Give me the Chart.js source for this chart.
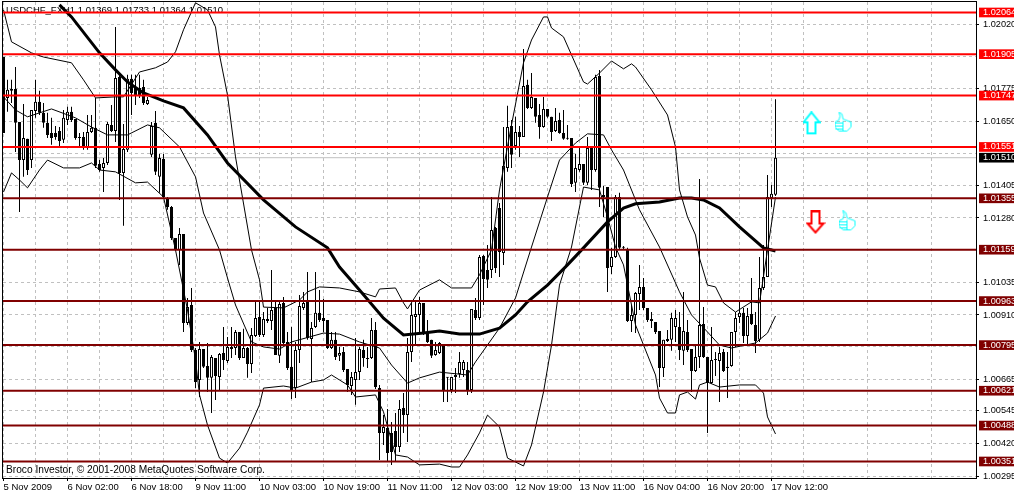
<!DOCTYPE html>
<html>
<head>
<meta charset="utf-8">
<title>USDCHF H1</title>
<script src="https://cdn.jsdelivr.net/npm/chart.js@4/dist/chart.umd.min.js"></script>
<style>
html, body { margin: 0; padding: 0; background: #fff; overflow: hidden; }
canvas { display: block; }
</style>
</head>
<body>
<canvas id="myChart" width="1014" height="495"></canvas>
<script>
const xTickLabels = ['5 Nov 2009', '6 Nov 02:00', '6 Nov 18:00', '9 Nov 11:00', '10 Nov 03:00', '10 Nov 19:00', '11 Nov 11:00',
    '12 Nov 03:00', '12 Nov 19:00', '13 Nov 11:00', '16 Nov 04:00', '16 Nov 20:00', '17 Nov 12:00'];
const priceTicks = [1.02020, 1.01775, 1.01650, 1.01405, 1.01280, 1.01035, 1.00910, 1.00665, 1.00545, 1.00420, 1.00295];
const hiddenTicks = [1.01895, 1.01525, 1.01160, 1.00790];
const redLevels = [1.02064, 1.01905, 1.01747, 1.01551];
const darkLevels = [1.01355, 1.01159, 1.00963, 1.00795, 1.00621, 1.00488, 1.00351];
const lastPrice = 1.01510;
const titleText = 'USDCHF_FXH1 1.01369 1.01733 1.01364 1.01510';
const copyrightText = 'Broco Investor, © 2001-2008 MetaQuotes Software Corp.';

const opens = [1.01894,1.01738,1.01765,1.01772,1.01646,1.01501,1.01582,1.01501,1.01688,1.01723,
    1.01681,1.01643,1.01604,1.01604,1.01612,1.01578,1.01654,1.01685,1.01658,1.01589,
    1.01589,1.01547,1.01608,1.01624,1.01486,1.01471,1.01490,1.01635,1.01612,1.01818,
    1.01452,1.01540,1.01811,1.01780,1.01776,1.01780,1.01715,1.01521,1.01643,1.01437,
    1.01505,1.01356,1.01322,1.01204,1.01158,1.01219,1.00879,1.00948,1.00776,1.00662,
    1.00780,1.00715,1.00670,1.00746,1.00673,1.00765,1.00734,1.00788,1.00784,1.00845,
    1.00746,1.00784,1.00723,1.00830,1.00902,1.00834,1.00895,1.00887,1.00937,1.00754,
    1.00956,1.00807,1.00712,1.00631,1.00776,1.00937,1.00960,1.00818,1.00864,1.00918,
    1.00898,1.00891,1.00784,1.00815,1.00754,1.00769,1.00704,1.00639,1.00662,1.00692,
    1.00776,1.00746,1.00746,1.00853,1.00631,1.00460,1.00479,1.00460,1.00467,1.00406,
    1.00555,1.00528,1.00769,1.00902,1.00910,1.00956,1.00845,1.00815,1.00757,1.00765,
    1.00795,1.00673,1.00624,1.00673,1.00685,1.00700,1.00700,1.00624,1.00929,1.00898,
    1.01135,1.01082,1.01082,1.01242,1.01318,1.01146,1.01471,1.01631,1.01555,1.01608,
    1.01589,1.01788,1.01700,1.01738,1.01673,1.01627,1.01696,1.01666,1.01612,1.01654,
    1.01604,1.01585,1.01585,1.01414,1.01463,1.01486,1.01414,1.01551,1.01463,1.01822,
    1.01368,1.01398,1.01093,1.01131,1.01360,1.01170,1.01158,1.00887,1.00910,1.00990,
    1.01017,1.00937,1.00895,1.00883,1.00849,1.00708,1.00811,1.00815,1.00864,1.00864,
    1.00773,1.00845,1.00780,1.00696,1.00750,1.00876,1.00750,1.00650,1.00742,1.00734,
    1.00769,1.00712,1.00715,1.00845,1.00902,1.00918,1.00830,1.00914,1.00872,1.00815,
    1.01013,1.01055,1.01356,1.01369];
const closes = [1.01604,1.01769,1.01772,1.01643,1.01501,1.01585,1.01463,1.01692,1.01723,1.01681,
    1.01643,1.01597,1.01585,1.01589,1.01574,1.01662,1.01685,1.01654,1.01585,1.01585,
    1.01547,1.01608,1.01624,1.01479,1.01463,1.01490,1.01639,1.01612,1.01814,1.01452,
    1.01543,1.01811,1.01757,1.01749,1.01749,1.01719,1.01730,1.01631,1.01456,1.01509,
    1.01360,1.01322,1.01204,1.01162,1.01219,1.00879,1.00940,1.00776,1.00654,1.00780,
    1.00712,1.00670,1.00750,1.00677,1.00761,1.00738,1.00788,1.00780,1.00845,1.00746,
    1.00784,1.00723,1.00834,1.00898,1.00834,1.00895,1.00887,1.00929,1.00757,1.00952,
    1.00803,1.00708,1.00624,1.00776,1.00944,1.00956,1.00822,1.00860,1.00918,1.00891,
    1.00887,1.00784,1.00815,1.00750,1.00765,1.00700,1.00643,1.00673,1.00692,1.00780,
    1.00746,1.00742,1.00853,1.00635,1.00460,1.00483,1.00383,1.00387,1.00406,1.00551,
    1.00528,1.00769,1.00910,1.00914,1.00956,1.00841,1.00807,1.00754,1.00776,1.00803,
    1.00624,1.00670,1.00673,1.00681,1.00731,1.00731,1.00624,1.00933,1.00898,1.01131,
    1.01047,1.01044,1.01234,1.01089,1.01150,1.01479,1.01627,1.01521,1.01608,1.01589,
    1.01784,1.01700,1.01742,1.01666,1.01627,1.01696,1.01666,1.01608,1.01650,1.01604,
    1.01582,1.01582,1.01410,1.01471,1.01486,1.01414,1.01547,1.01463,1.01818,1.01395,
    1.01360,1.01089,1.01131,1.01360,1.01166,1.01166,1.00887,1.00910,1.00994,1.01017,
    1.00937,1.00891,1.00887,1.00845,1.00708,1.00815,1.00818,1.00898,1.00898,1.00776,
    1.00849,1.00776,1.00696,1.00750,1.00872,1.00750,1.00650,1.00738,1.00738,1.00765,
    1.00696,1.00708,1.00845,1.00898,1.00918,1.00830,1.00906,1.00876,1.00811,1.01013,
    1.01055,1.01360,1.01372,1.01510];
const highs = [1.01894,1.01807,1.01807,1.01856,1.01646,1.01715,1.01582,1.01692,1.01807,1.01765,
    1.01719,1.01681,1.01662,1.01631,1.01627,1.01692,1.01704,1.01704,1.01658,1.01604,
    1.01608,1.01673,1.01673,1.01738,1.01501,1.01509,1.01646,1.01711,1.02009,1.01826,
    1.01639,1.01826,1.01826,1.01826,1.01826,1.01807,1.01742,1.01646,1.01688,1.01524,
    1.01524,1.01360,1.01326,1.01204,1.01242,1.01219,1.00975,1.01013,1.00784,1.00807,
    1.00780,1.00803,1.00757,1.00746,1.00765,1.00864,1.00826,1.00864,1.00853,1.00845,
    1.00857,1.00788,1.00860,1.00960,1.00967,1.00921,1.00937,1.01082,1.00963,1.00963,
    1.00979,1.00845,1.00864,1.00807,1.00986,1.00998,1.01074,1.00883,1.01074,1.01005,
    1.00971,1.00891,1.00845,1.00845,1.00788,1.00788,1.00704,1.00692,1.00822,1.00788,
    1.00815,1.00788,1.00898,1.00883,1.00643,1.00528,1.00551,1.00502,1.00536,1.00586,
    1.00612,1.00822,1.00956,1.00967,1.00979,1.00956,1.00891,1.00815,1.00807,1.00807,
    1.00795,1.00673,1.00673,1.00708,1.00769,1.00738,1.00731,1.00933,1.00975,1.01139,
    1.01139,1.01177,1.01360,1.01246,1.01337,1.01627,1.01708,1.01654,1.01666,1.01631,
    1.01925,1.01807,1.01833,1.01738,1.01715,1.01742,1.01696,1.01666,1.01700,1.01681,
    1.01692,1.01635,1.01585,1.01524,1.01551,1.01486,1.01589,1.01551,1.01826,1.01845,
    1.01402,1.01398,1.01166,1.01368,1.01376,1.01173,1.01166,1.00948,1.00998,1.01101,
    1.01051,1.00937,1.00921,1.00883,1.00849,1.00815,1.00853,1.00918,1.00929,1.00921,
    1.00998,1.00891,1.00780,1.00795,1.01429,1.00940,1.00750,1.00864,1.00769,1.00788,
    1.00780,1.00769,1.00845,1.00921,1.00960,1.00937,1.00937,1.01051,1.00921,1.01131,
    1.01177,1.01444,1.01406,1.01733];
const lows = [1.01604,1.01685,1.01719,1.01532,1.01303,1.01437,1.01444,1.01471,1.01662,1.01673,
    1.01624,1.01585,1.01559,1.01578,1.01551,1.01566,1.01635,1.01646,1.01578,1.01551,
    1.01540,1.01540,1.01604,1.01471,1.01456,1.01379,1.01482,1.01608,1.01570,1.01349,
    1.01250,1.01532,1.01673,1.01711,1.01738,1.01711,1.01711,1.01513,1.01444,1.01376,
    1.01356,1.01311,1.01196,1.01154,1.01101,1.00845,1.00872,1.00769,1.00631,1.00597,
    1.00708,1.00616,1.00536,1.00586,1.00624,1.00700,1.00727,1.00746,1.00757,1.00738,
    1.00746,1.00670,1.00689,1.00826,1.00826,1.00826,1.00879,1.00853,1.00757,1.00727,
    1.00795,1.00700,1.00589,1.00593,1.00727,1.00929,1.00815,1.00654,1.00860,1.00883,
    1.00845,1.00780,1.00780,1.00738,1.00734,1.00692,1.00616,1.00605,1.00567,1.00662,
    1.00712,1.00708,1.00742,1.00628,1.00357,1.00414,1.00349,1.00338,1.00349,1.00387,
    1.00460,1.00425,1.00731,1.00795,1.00845,1.00834,1.00803,1.00746,1.00754,1.00761,
    1.00578,1.00578,1.00612,1.00612,1.00670,1.00673,1.00605,1.00612,1.00891,1.00891,
    1.00948,1.01013,1.01051,1.01070,1.01055,1.01101,1.01456,1.01471,1.01540,1.01513,
    1.01589,1.01696,1.01696,1.01643,1.01582,1.01624,1.01662,1.01574,1.01608,1.01601,
    1.01578,1.01578,1.01398,1.01379,1.01456,1.01406,1.01406,1.01387,1.01456,1.01322,
    1.01284,1.00998,1.01066,1.01127,1.01162,1.01162,1.00883,1.00845,1.00841,1.00929,
    1.00929,1.00883,1.00860,1.00837,1.00635,1.00673,1.00807,1.00773,1.00807,1.00738,
    1.00719,1.00769,1.00616,1.00692,1.00708,1.00746,1.00460,1.00647,1.00677,1.00578,
    1.00692,1.00593,1.00712,1.00788,1.00879,1.00803,1.00795,1.00872,1.00765,1.00807,
    1.01005,1.01055,1.01322,1.01364];

// sparse line points: bar number and price
const upperBars = [0,2,7,10,17,20,23,28,30,34,38,41,43,45,48,51,53,54,56,58,62,64,65,70,74,76,79,84,89,93,94,98,100,101,104,109,112,117,119,122,124,127,130,132,135,136,137,140,142,145,146,149,152,155,157,158,162,166,168,169,171,173,174,176,178,180,183,187,189,191,193];
const upperBand = [1.02074,1.01952,1.01910,1.01894,1.01872,1.01807,1.01738,1.01742,1.01742,1.01837,1.01853,1.01875,1.01914,1.01998,1.02101,1.02074,1.02009,1.01902,1.01749,1.01513,1.01158,1.01044,1.00940,1.00937,1.00967,1.00998,1.01017,1.01013,1.00998,1.00979,1.01009,1.01013,1.00956,1.00933,1.01005,1.01044,1.01013,1.01013,1.01063,1.01158,1.01387,1.01635,1.01872,1.01959,1.02047,1.02047,1.02005,1.01971,1.01902,1.01799,1.01791,1.01833,1.01879,1.01849,1.01868,1.01856,1.01769,1.01673,1.01551,1.01387,1.01284,1.01215,1.01127,1.01024,1.01017,1.00956,1.00921,1.00960,1.00956,1.01158,1.01360];
const middleBars = [0,3,6,12,18,22,26,31,36,39,44,48,50,54,56,58,62,65,69,72,80,84,89,94,97,101,104,109,116,118,124,128,132,136,139,143,146,150,152,155,159,164,169,172,176,179,182,188,191,193];
const middleBand = [1.01742,1.01692,1.01666,1.01696,1.01662,1.01627,1.01597,1.01597,1.01635,1.01624,1.01551,1.01437,1.01299,1.01158,1.01051,1.00948,1.00807,1.00788,1.00780,1.00807,1.00841,1.00837,1.00807,1.00784,1.00719,1.00650,1.00670,1.00692,1.00681,1.00731,1.00860,1.00975,1.01169,1.01360,1.01501,1.01566,1.01601,1.01597,1.01540,1.01463,1.01311,1.01169,1.00998,1.00910,1.00845,1.00795,1.00784,1.00803,1.00841,1.00906];
const lowerBars = [0,2,4,6,9,11,15,19,22,24,28,33,36,40,43,46,48,49,51,54,56,59,61,64,65,70,73,77,80,82,84,86,88,93,95,98,101,104,109,112,114,116,119,121,124,126,130,132,135,137,139,142,145,149,151,153,155,158,163,164,166,168,169,171,173,174,176,179,184,188,190,191,193];
const lowerBand = [1.01379,1.01452,1.01425,1.01395,1.01463,1.01501,1.01471,1.01471,1.01490,1.01463,1.01456,1.01414,1.01417,1.01360,1.01158,1.00929,1.00738,1.00605,1.00490,1.00364,1.00345,1.00402,1.00463,1.00567,1.00631,1.00639,1.00631,1.00654,1.00662,1.00681,1.00662,1.00643,1.00597,1.00605,1.00540,1.00376,1.00368,1.00338,1.00341,1.00330,1.00330,1.00376,1.00460,1.00528,1.00483,1.00364,1.00334,1.00414,1.00616,1.00795,1.01024,1.01169,1.01398,1.01387,1.01284,1.01169,1.01101,1.00872,1.00681,1.00593,1.00536,1.00536,1.00605,1.00616,1.00589,1.00643,1.00654,1.00635,1.00643,1.00643,1.00612,1.00521,1.00456];
const maBars = [14,17,24,28,31,35,40,45,51,56,65,73,81,84,89,95,100,105,109,114,119,124,128,131,136,141,145,151,155,158,164,169,172,175,179,184,190,193];
const maLine = [1.02093,1.02047,1.01910,1.01845,1.01799,1.01757,1.01727,1.01700,1.01597,1.01490,1.01349,1.01246,1.01166,1.01093,1.01005,1.00898,1.00834,1.00841,1.00849,1.00837,1.00837,1.00860,1.00910,1.00960,1.01024,1.01101,1.01166,1.01265,1.01318,1.01334,1.01341,1.01356,1.01356,1.01349,1.01318,1.01246,1.01166,1.01154];

const arrowBars = [202, 203];
const arrowPrices = [1.01641, 1.01263];
const thumbBars = [210, 211];
const thumbPrices = [1.01646, 1.01269];

const FONT = 'Liberation Sans';
const xMin = -0.125, xMax = 243.125;
const allLevels = redLevels.concat(darkLevels);
const zip = (bars, vals) => bars.map((b, i) => ({x: b, y: vals[i]}));
const hline = v => [{x: xMin, y: v}, {x: xMax, y: v}];
const noPadding = s => { s.paddingLeft = s.paddingRight = s.paddingTop = s.paddingBottom = 0; };

function makeIcon(w, h, draw) {
    const c = document.createElement('canvas');
    c.width = w;
    c.height = h;
    const g = c.getContext('2d');
    g.lineJoin = 'miter';
    draw(g);
    return c;
}
function poly(g, pts) {
    g.beginPath();
    pts.forEach((p, i) => i ? g.lineTo(p[0], p[1]) : g.moveTo(p[0], p[1]));
    g.closePath();
}
const upArrow = makeIcon(18, 24, g => {
    poly(g, [[9, 1], [17, 11], [13, 11], [13, 22], [5, 22], [5, 11], [1, 11]]);
    g.fillStyle = '#fff';
    g.fill();
    g.strokeStyle = '#00ffff';
    g.lineWidth = 2;
    g.stroke();
});
const downArrow = makeIcon(20, 24, g => {
    poly(g, [[6, 1], [14, 1], [14, 13], [18, 13], [10, 22], [2, 13], [6, 13]]);
    g.fillStyle = '#fff';
    g.fill();
    g.strokeStyle = '#ff0000';
    g.lineWidth = 2;
    g.stroke();
});
const thumb = makeIcon(18, 21, g => {
    g.strokeStyle = '#00ffff';
    g.lineWidth = 1;
    poly(g, [[4.5, 0.5], [7.5, 2.5], [8.5, 7.5], [16.5, 10.5], [16.5, 15.5], [12.5, 19.5], [4.5, 19.5], [0.5, 15.5], [0.5, 10.5], [4.5, 8.5], [5.5, 4.5]]);
    g.stroke();
    g.beginPath();
    [[11.5], [14.5], [17.5]].forEach(r => { g.moveTo(1, r[0]); g.lineTo(8, r[0]); });
    g.moveTo(8.5, 9.5);
    g.lineTo(8.5, 19);
    g.stroke();
});

const frameAndText = {
    id: 'frameAndText',
    beforeDatasetsDraw(chart) {
        const {ctx} = chart;
        ctx.save();
        ctx.fillStyle = '#000';
        ctx.textBaseline = 'middle';
        ctx.font = '9.5px "' + FONT + '"';
        ctx.fillText(titleText, 6, 10);
        ctx.font = '10.2px "' + FONT + '"';
        ctx.fillText(copyrightText, 6, 470);
        ctx.restore();
    },
    afterDraw(chart) {
        const {ctx, chartArea: a} = chart;
        ctx.save();
        ctx.strokeStyle = '#000';
        ctx.lineWidth = 1;
        ctx.strokeRect(a.left - 0.5, a.top - 0.5, a.right - a.left + 1, a.bottom - a.top + 1);
        ctx.restore();
    }
};

const lineDefaults = {type: 'line', borderColor: '#000', pointRadius: 0, tension: 0, fill: false};
const levelColor = v => redLevels.includes(v) ? '#ff0000' : '#800000';
const barIdx = opens.map((o, i) => i);

new Chart(document.getElementById('myChart'), {
    type: 'bar',
    data: {
        datasets: [
            {data: barIdx.map(i => ({x: i, y: [lows[i], highs[i]]})), backgroundColor: '#000', barThickness: 1, grouped: false, order: 4, inflateAmount: 0},
            {data: barIdx.map(i => ({x: i, y: [opens[i], closes[i]]})),
                backgroundColor: c => closes[c.dataIndex] > opens[c.dataIndex] ? '#fff' : '#000',
                borderColor: '#000', borderWidth: 1, borderSkipped: false, barThickness: 3, minBarLength: 1, grouped: false, order: 3, inflateAmount: 0},
            {...lineDefaults, data: zip(upperBars, upperBand), borderWidth: 1, order: 2},
            {...lineDefaults, data: zip(middleBars, middleBand), borderWidth: 1, order: 2},
            {...lineDefaults, data: zip(lowerBars, lowerBand), borderWidth: 1, order: 2},
            {...lineDefaults, data: zip(maBars, maLine), borderWidth: 3, order: 2},
            {...lineDefaults, data: hline(lastPrice), borderColor: '#c0c0c0', borderWidth: 1, order: 5},
            ...allLevels.map(v => ({...lineDefaults, data: hline(v), borderColor: levelColor(v), borderWidth: 2, order: 1})),
            {type: 'scatter', data: zip(arrowBars, arrowPrices), pointStyle: [upArrow, downArrow], pointRadius: 10, order: 0},
            {type: 'scatter', data: zip(thumbBars, thumbPrices), pointStyle: thumb, pointRadius: 10, order: 0}
        ]
    },
    options: {
        responsive: false,
        animation: false,
        devicePixelRatio: 1,
        layout: {autoPadding: false, padding: {left: 3, top: 2, right: 0, bottom: 0}},
        plugins: {legend: {display: false}, tooltip: {enabled: false}},
        scales: {
            x: {
                type: 'linear',
                offset: false,
                min: xMin,
                max: xMax,
                afterBuildTicks: s => {
                    const t = [];
                    for (let v = 0; v <= 240; v += 8) t.push({value: v});
                    s.ticks = t;
                },
                afterFit: s => { s.height = 17; noPadding(s); },
                border: {display: false, dash: [3, 3]},
                grid: {
                    offset: false,
                    color: '#c0c0c0',
                    tickLength: 3,
                    tickBorderDash: [],
                    tickColor: c => c.tick && c.tick.value % 16 === 0 ? '#000' : 'rgba(0,0,0,0)'
                },
                ticks: {
                    align: 'start',
                    autoSkip: false,
                    maxRotation: 0,
                    padding: 1,
                    color: '#000',
                    font: {family: FONT, size: 9.5},
                    callback: v => v % 16 === 0 ? xTickLabels[v / 16] : ''
                }
            },
            y: {
                position: 'right',
                min: 1.00288,
                max: 1.02104,
                afterBuildTicks: s => {
                    s.ticks = priceTicks.concat(hiddenTicks, [lastPrice], allLevels).map(v => ({value: v}));
                },
                afterFit: s => { s.width = 38; noPadding(s); },
                border: {display: false, dash: [3, 3]},
                grid: {
                    color: c => c.tick && (priceTicks.includes(c.tick.value) || hiddenTicks.includes(c.tick.value)) ? '#c0c0c0' : 'rgba(0,0,0,0)',
                    tickLength: 3,
                    tickBorderDash: [],
                    tickColor: c => c.tick && priceTicks.includes(c.tick.value) ? '#000' : 'rgba(0,0,0,0)'
                },
                ticks: {
                    autoSkip: false,
                    padding: 4,
                    font: {family: FONT, size: 9.2, lineHeight: 1.05},
                    color: c => c.tick && priceTicks.includes(c.tick.value) ? '#000' : '#fff',
                    showLabelBackdrop: c => !!c.tick && !priceTicks.includes(c.tick.value) && !hiddenTicks.includes(c.tick.value),
                    backdropColor: c => {
                        if (!c.tick) return '#000';
                        return c.tick.value === lastPrice ? '#000' : levelColor(c.tick.value);
                    },
                    backdropPadding: {left: 4, right: 4, top: 0, bottom: 0},
                    callback: v => hiddenTicks.includes(v) ? '' : v.toFixed(5)
                }
            }
        }
    },
    plugins: [frameAndText]
});
</script>
</body>
</html>
